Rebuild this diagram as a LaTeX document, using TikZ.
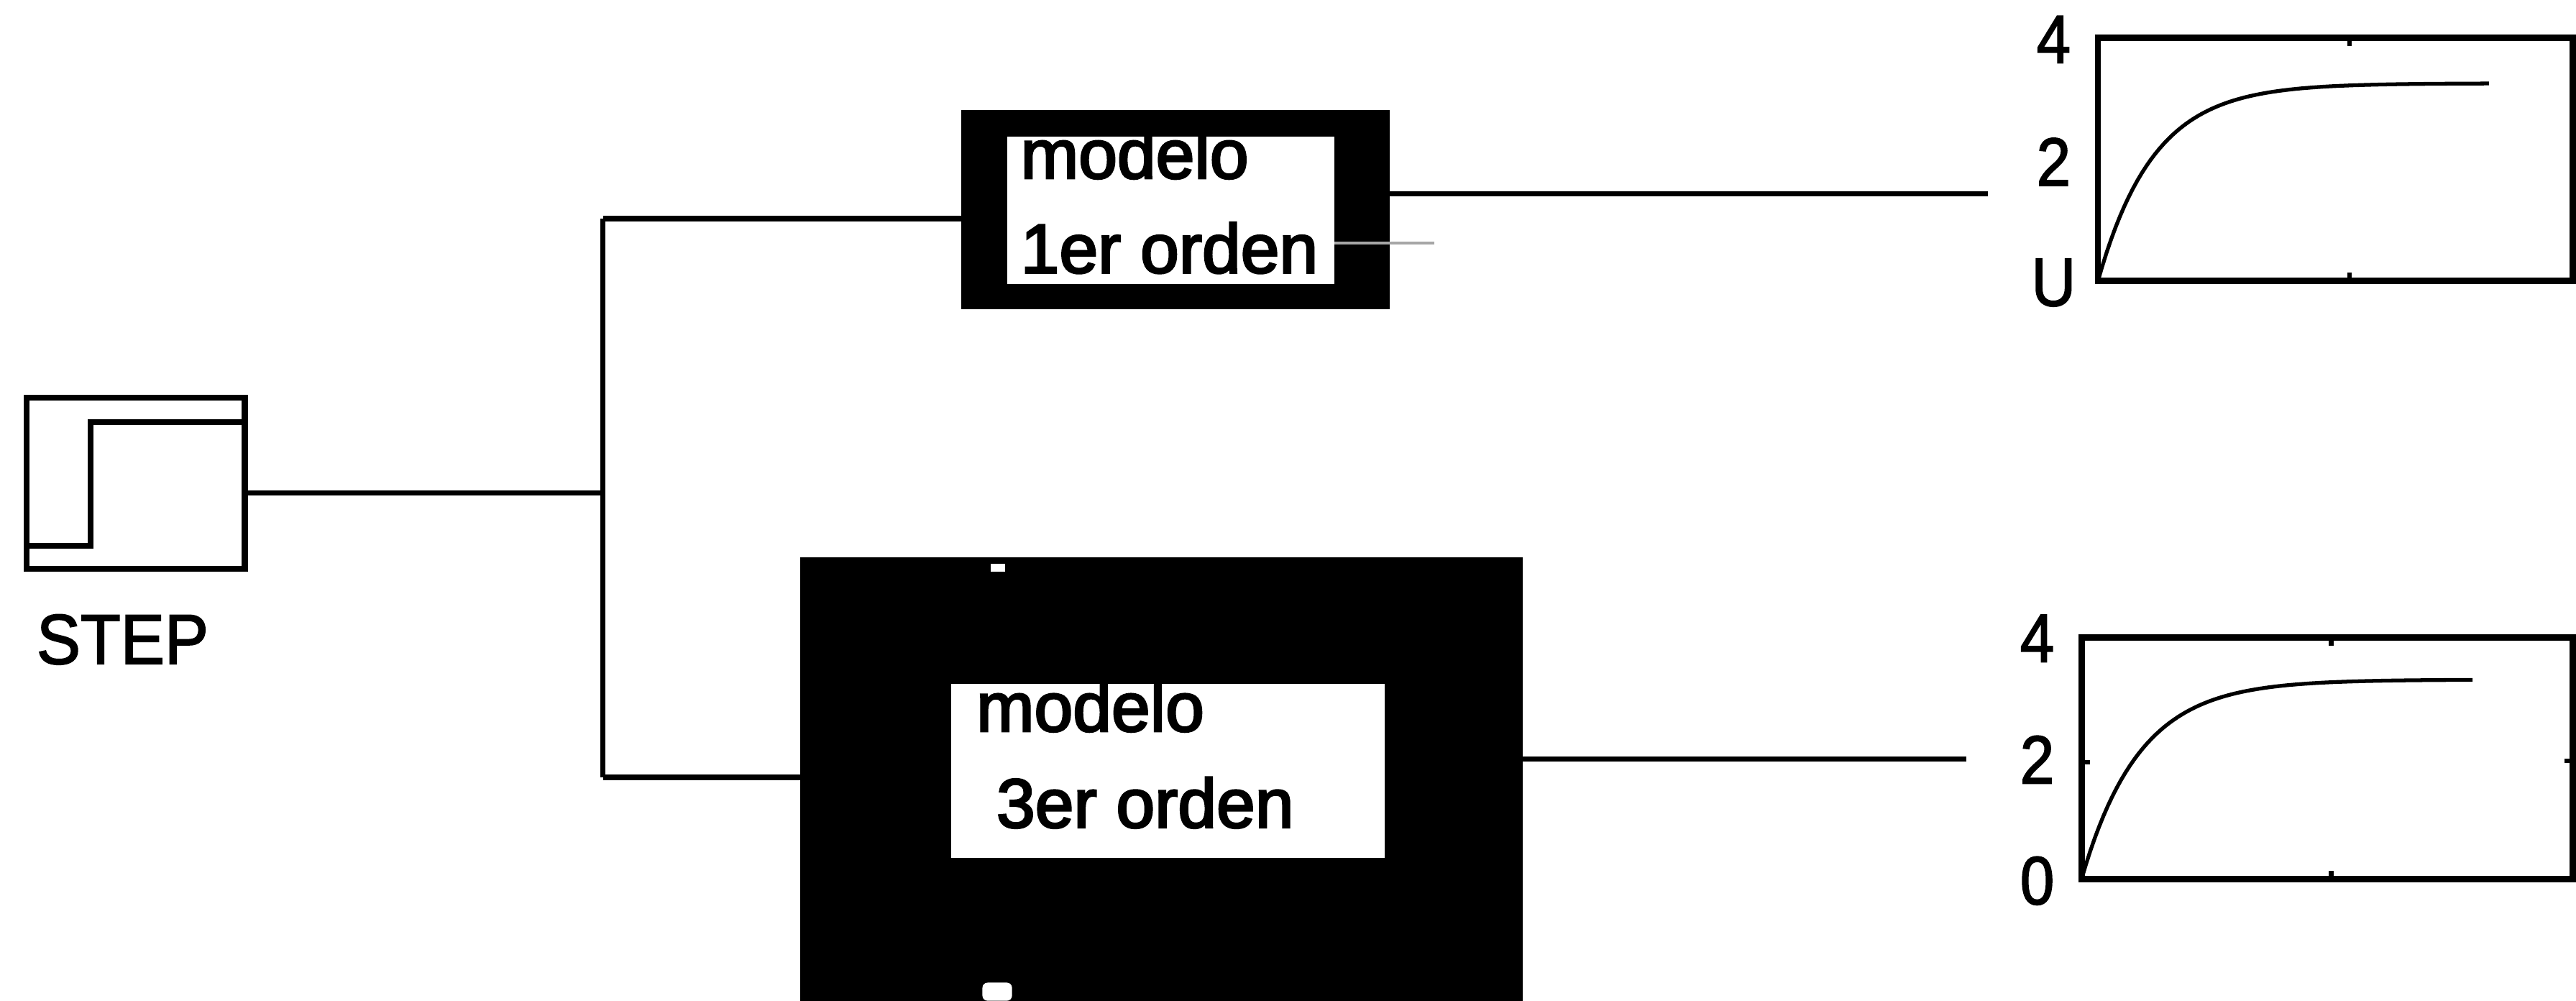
\documentclass[tikz,border=0pt]{standalone}
\usepackage{fontspec}
\usepackage{graphicx}
\setmainfont{Liberation Sans}
\usetikzlibrary{fit}
\begin{document}
\begin{tikzpicture}[x=0.022851cm,y=-0.022851cm,
  wire/.style={line width=2.1pt},
  frame/.style={draw, line width=2.5pt, inner sep=0pt, outer sep=0pt},
  blackblk/.style={fill=black, inner sep=0pt, outer sep=0pt},
  whitewin/.style={fill=white, inner sep=0pt, outer sep=0pt},
  boxtxt/.style={font=\fontsize{27.5}{33}\selectfont\addfontfeature{FakeBold=3}, anchor=base west, inner sep=0pt},
  plotlbl/.style={font=\fontsize{27}{32}\selectfont\addfontfeature{FakeBold=2}, inner sep=0pt},
  resp/.style={line width=1.5pt},
  tick/.style={line width=1.8pt}
]
\useasboundingbox (0,0) rectangle (1568,609);

% ---------- STEP source ----------
\coordinate (s1) at (16,242);
\coordinate (s2) at (149,346);
\node[frame, line width=2.3pt, fit=(s1)(s2)] (stepblk) {};
\draw[line width=2.3pt] (16,332) -- (55,332) -- (55,257) -- (149,257);
\node[plotlbl, font=\fontsize{28}{32}\selectfont\addfontfeature{FakeBold=2}, anchor=base west] (steplbl) at (22,404) {\scalebox{0.93}[1]{STEP}};

% ---------- bus ----------
\coordinate (j)  at (367,300);
\coordinate (jt) at (367,133);
\coordinate (jb) at (367,473);

% ---------- first-order block ----------
\coordinate (b1a) at (585,67);
\coordinate (b1b) at (846,188);
\node[blackblk, fit=(b1a)(b1b)] (blk1) {};
\coordinate (w1a) at (613,83);
\coordinate (w1b) at (812,173);
\node[whitewin, fit=(w1a)(w1b)] (win1) {};
\begin{scope}
  \clip (w1a) rectangle (w1b);
  \node[boxtxt] (t1a) at (621,108.5) {modelo};
  \node[boxtxt] (t1b) at (621,166) {1er orden};
\end{scope}
\draw[gray!70, line width=1.1pt] (812,148) -- (873,148);

% ---------- third-order block ----------
\coordinate (b2a) at (487,339);
\coordinate (b2b) at (927,616);
\node[blackblk, fit=(b2a)(b2b)] (blk2) {};
\coordinate (w2a) at (579,416);
\coordinate (w2b) at (843,522);
\node[whitewin, fit=(w2a)(w2b)] (win2) {};
\node[boxtxt] (t2a) at (594,445) {modelo};
\node[boxtxt] (t2b) at (594,503.6) {\hspace{0.28cm}3er orden};
\fill[white] (603,343) rectangle (612,348);
\fill[white, rounded corners=2pt] (598,598) rectangle (616,609);

% ---------- outputs ----------
\coordinate (o1) at (1210,118);
\coordinate (o2) at (1197,462);

% ---------- plot 1 ----------
\coordinate (p1a) at (1277,23);
\coordinate (p1b) at (1566,171);
\node[frame, fit=(p1a)(p1b)] (plot1) {};
\draw[tick] (1430,23) -- (1430,28) (1430,171) -- (1430,166);
\draw[resp] plot[domain=0:238, samples=90] ({1277+\x},{171-120.3*(1-exp(-\x/33.8))});
\node[plotlbl] (l14) at (1250,24) {\scalebox{0.9}[1]{4}};
\node[plotlbl] (l12) at (1250,98.5) {\scalebox{0.9}[1]{2}};
\node[plotlbl] (l10) at (1250,172) {\scalebox{0.9}[1]{U}};

% ---------- plot 2 ----------
\coordinate (p2a) at (1267,388);
\coordinate (p2b) at (1566,535);
\node[frame, fit=(p2a)(p2b)] (plot2) {};
\draw[tick] (1419,388) -- (1419,393) (1419,535) -- (1419,530)
            (1267,464) -- (1272,464) (1566,463) -- (1561,463);
\draw[resp] plot[domain=0:238, samples=90] ({1267+\x},{535-121.4*(1-exp(-\x/35))});
\node[plotlbl] (l24) at (1240,388.5) {\scalebox{0.9}[1]{4}};
\node[plotlbl] (l22) at (1240,462.3) {\scalebox{0.9}[1]{2}};
\node[plotlbl] (l20) at (1240,536) {\scalebox{0.9}[1]{0}};

% ---------- connectors ----------
\draw[wire] (j -| stepblk.east) -- (j);
\draw[wire] (jt) -- (jb);
\draw[wire] (jt) -- (jt -| blk1.west);
\draw[wire] (jb) -- (jb -| blk2.west);
\draw[wire] (o1 -| blk1.east) -- (o1);
\draw[wire] (o2 -| blk2.east) -- (o2);
\end{tikzpicture}
\end{document}
